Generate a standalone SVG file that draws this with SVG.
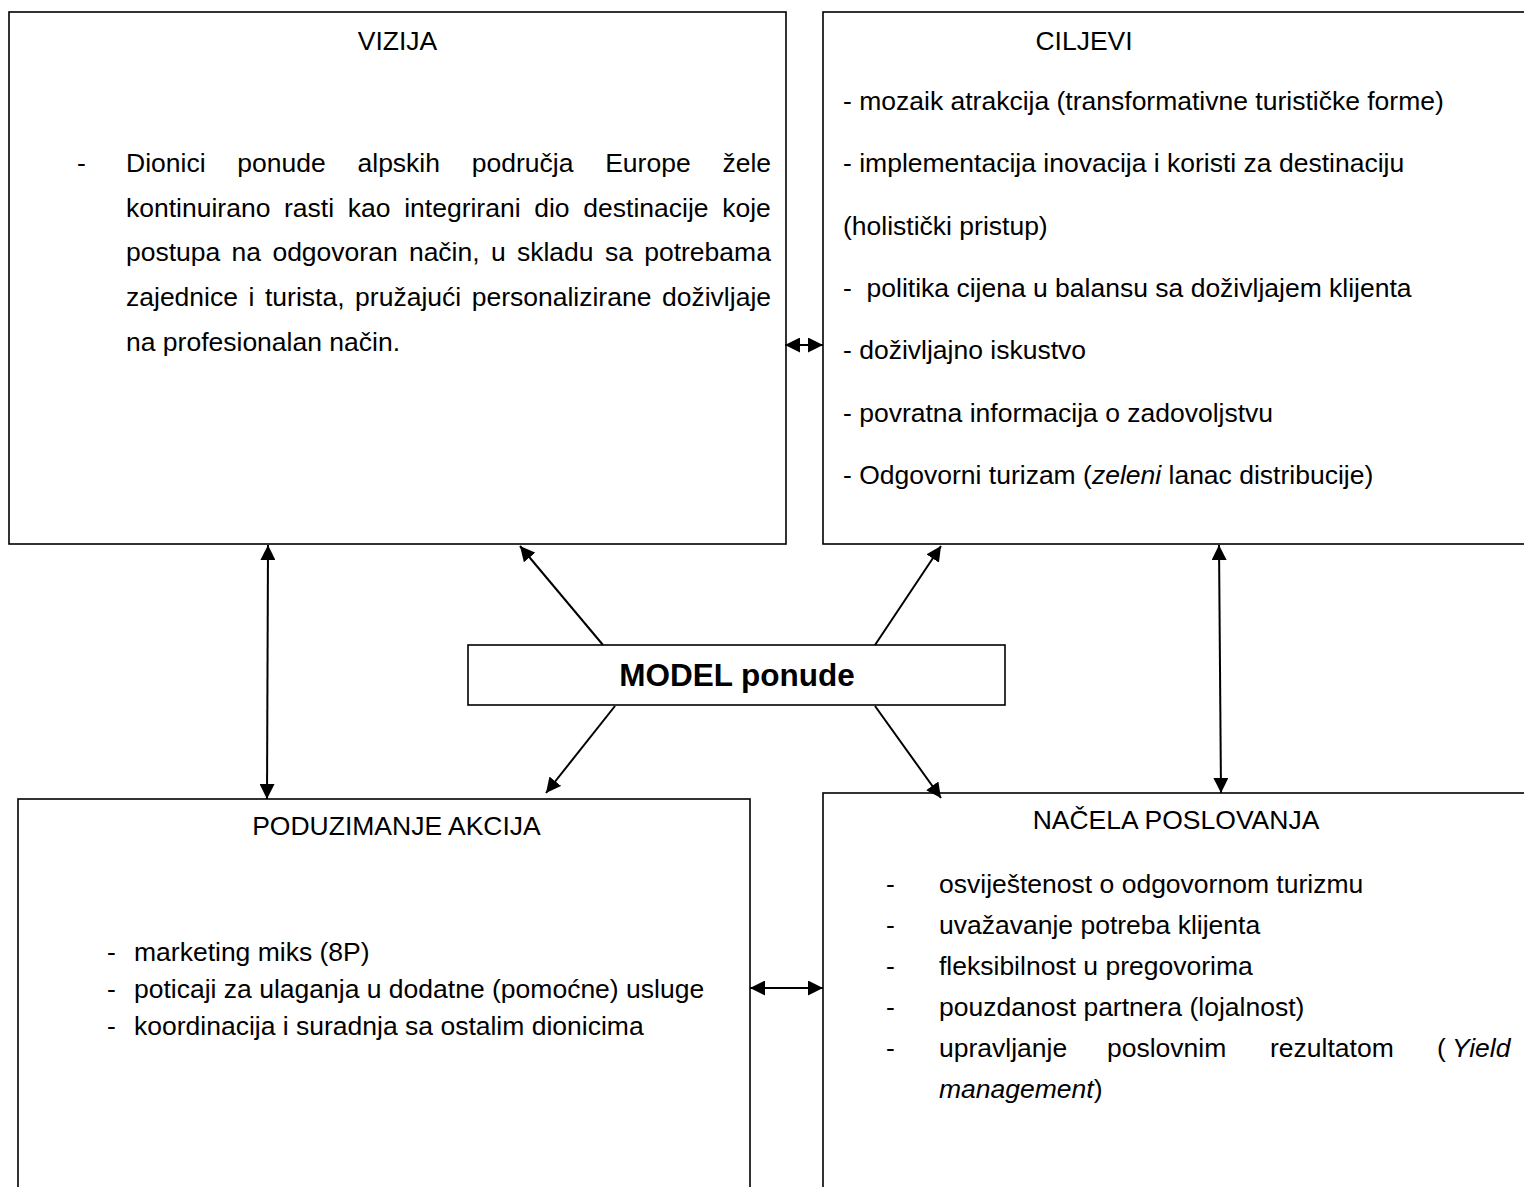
<svg xmlns="http://www.w3.org/2000/svg" width="1524" height="1187" viewBox="0 0 1524 1187">
<style>
.box{fill:#fff;stroke:#000;stroke-width:1.6}
.t{font-family:"Liberation Sans",Arial,sans-serif;font-size:26.5px;fill:#000}
.c{text-anchor:middle}
.b{font-weight:bold;font-size:31.5px}
.i{font-style:italic}
.con{stroke:#000;stroke-width:2;fill:none}
</style>
<defs>
<marker id="ah" viewBox="0 0 10 10" refX="10" refY="5" markerWidth="15" markerHeight="15" markerUnits="userSpaceOnUse" orient="auto-start-reverse"><path d="M0,0 L10,5 L0,10 z" fill="#000"/></marker>
</defs>
<rect width="1524" height="1187" fill="#fff"/>

<g id="vizija">
<rect class="box" x="9" y="12" width="777" height="532"/>
<text class="t c" x="397.5" y="49.5">VIZIJA</text>
<text class="t" x="77" y="172">-</text>
<text class="t" y="172"><tspan x="126">Dionici</tspan><tspan x="237.3">ponude</tspan><tspan x="357.5">alpskih</tspan><tspan x="471.8">područja</tspan><tspan x="605.2">Europe</tspan><tspan x="722.4">žele</tspan></text>
<text class="t" y="216.7"><tspan x="126">kontinuirano</tspan><tspan x="284">rasti</tspan><tspan x="347.8">kao</tspan><tspan x="404.2">integrirani</tspan><tspan x="534.2">dio</tspan><tspan x="583.3">destinacije</tspan><tspan x="722.2">koje</tspan></text>
<text class="t" y="261.4"><tspan x="126">postupa</tspan><tspan x="231.6">na</tspan><tspan x="272.4">odgovoran</tspan><tspan x="408.9">način,</tspan><tspan x="490.9">u</tspan><tspan x="516.9">skladu</tspan><tspan x="604.9">sa</tspan><tspan x="644.2">potrebama</tspan></text>
<text class="t" y="306.1"><tspan x="126">zajednice</tspan><tspan x="248.5">i</tspan><tspan x="265">turista,</tspan><tspan x="355.1">pružajući</tspan><tspan x="471.7">personalizirane</tspan><tspan x="662">doživljaje</tspan></text>
<text class="t" x="126" y="350.8">na profesionalan način.</text>
</g>

<g id="ciljevi">
<rect class="box" x="823" y="12" width="720" height="532"/>
<text class="t c" x="1084" y="49.5">CILJEVI</text>
<text class="t" x="843" y="110">- mozaik atrakcija (transformativne turističke forme)</text>
<text class="t" x="843" y="172.3">- implementacija inovacija i koristi za destinaciju</text>
<text class="t" x="843" y="234.6">(holistički pristup)</text>
<text class="t" x="843" y="296.9" xml:space="preserve">-  politika cijena u balansu sa doživljajem klijenta</text>
<text class="t" x="843" y="359.2">- doživljajno iskustvo</text>
<text class="t" x="843" y="421.5">- povratna informacija o zadovoljstvu</text>
<text class="t" x="843" y="483.8">- Odgovorni turizam (<tspan class="i">zeleni</tspan> lanac distribucije)</text>
</g>

<g id="model">
<rect class="box" x="468" y="645" width="537" height="60"/>
<text class="t c b" x="737" y="686">MODEL ponude</text>
</g>

<g id="poduzimanje">
<rect class="box" x="18" y="799" width="732" height="420"/>
<text class="t c" x="396.5" y="834.5">PODUZIMANJE AKCIJA</text>
<text class="t" x="107" y="961">-</text>
<text class="t" x="134" y="961">marketing miks (8P)</text>
<text class="t" x="107" y="998">-</text>
<text class="t" x="134" y="998">poticaji za ulaganja u dodatne (pomoćne) usluge</text>
<text class="t" x="107" y="1035">-</text>
<text class="t" x="134" y="1035">koordinacija i suradnja sa ostalim dionicima</text>
</g>

<g id="nacela">
<rect class="box" x="823" y="793" width="720" height="420"/>
<text class="t c" x="1176" y="829">NAČELA POSLOVANJA</text>
<text class="t" x="886" y="893">-</text>
<text class="t" x="939" y="893">osviještenost o odgovornom turizmu</text>
<text class="t" x="886" y="934">-</text>
<text class="t" x="939" y="934">uvažavanje potreba klijenta</text>
<text class="t" x="886" y="975">-</text>
<text class="t" x="939" y="975">fleksibilnost u pregovorima</text>
<text class="t" x="886" y="1016">-</text>
<text class="t" x="939" y="1016">pouzdanost partnera (lojalnost)</text>
<text class="t" x="886" y="1057">-</text>
<text class="t" y="1057"><tspan x="939">upravljanje</tspan><tspan x="1107">poslovnim</tspan><tspan x="1270">rezultatom</tspan><tspan x="1437">(</tspan><tspan x="1452" class="i">Yield</tspan></text>
<text class="t" x="939" y="1098"><tspan class="i">management</tspan>)</text>
</g>

<g id="connectors" class="con">
<line x1="785" y1="345" x2="823" y2="345" marker-start="url(#ah)" marker-end="url(#ah)"/>
<line x1="268" y1="545" x2="267" y2="799" marker-start="url(#ah)" marker-end="url(#ah)"/>
<line x1="1219" y1="545" x2="1221" y2="793" marker-start="url(#ah)" marker-end="url(#ah)"/>
<line x1="750" y1="988" x2="823" y2="988" marker-start="url(#ah)" marker-end="url(#ah)"/>
<line x1="603" y1="645" x2="520" y2="546" marker-end="url(#ah)"/>
<line x1="875" y1="645" x2="941" y2="546" marker-end="url(#ah)"/>
<line x1="615" y1="706" x2="546" y2="793" marker-end="url(#ah)"/>
<line x1="875" y1="706" x2="941" y2="798" marker-end="url(#ah)"/>
</g>
</svg>
